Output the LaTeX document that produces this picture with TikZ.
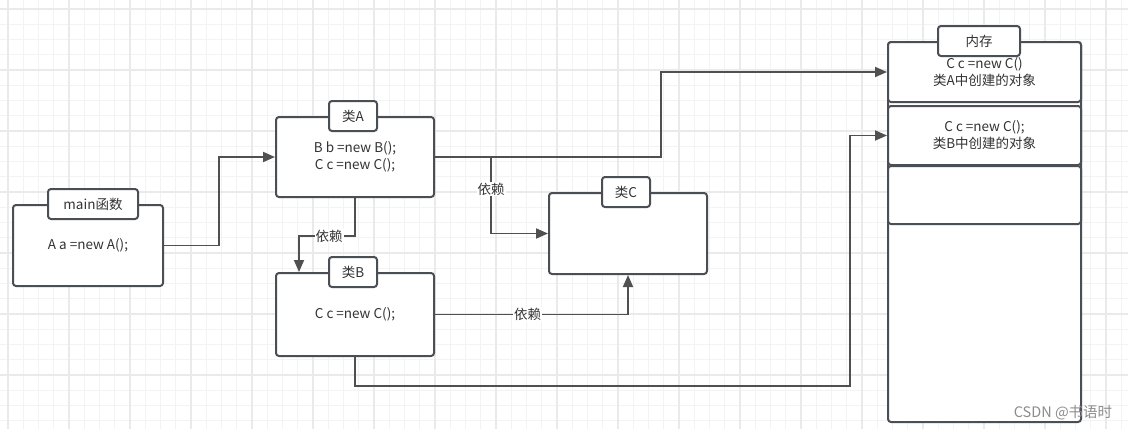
\documentclass[tikz,border=0pt]{standalone}
\usepackage{fontspec}
\setmainfont{Noto Sans CJK SC}
\usetikzlibrary{arrows.meta,positioning}
\definecolor{linegray}{HTML}{505050}
\definecolor{boxgray}{HTML}{4A4E55}
\definecolor{textgray}{HTML}{333333}
\definecolor{gridminor}{HTML}{F3F3F3}
\definecolor{gridmajor}{HTML}{EAEAEA}
\definecolor{markgray}{HTML}{8C8C8C}
\tikzset{box/.style={draw=boxgray, line width=2pt, rounded corners=3pt, fill=white,
   text=textgray, align=center, font=\fontsize{13.5}{17}\selectfont, inner sep=0pt},
 tab/.style={box, minimum height=30pt},
 dep/.style={draw=linegray, line width=1.8pt, -{Triangle[length=12pt,width=10pt]}},
 lbl/.style={fill=white, text=textgray, inner sep=1pt, font=\fontsize{13.5}{16}\selectfont},
 gridthin/.style={draw=gridminor, line width=1pt},
 gridthick/.style={draw=gridmajor, line width=1.6pt},
 }

\begin{document}
\begin{tikzpicture}[x=1pt, y=-1pt]
    \useasboundingbox (0,0) rectangle (1128,429);
    \fill[white] (0,0) rectangle (1128,429);
    \foreach \gx in {0,...,73} {\draw[gridthin] ({8+15.25*\gx},0) -- ++(0,429);}
    \foreach \gy in {0,...,27} {\draw[gridthin] (0,{9+15.25*\gy}) -- ++(1128,0);}
    \foreach \gx in {0,...,18} {\draw[gridthick] ({8+61*\gx},0) -- ++(0,429);}
    \foreach \gy in {0,...,7} {\draw[gridthick] (0,{9+61*\gy}) -- ++(1128,0);}

    \node[box, minimum width=150pt, minimum height=81pt] (mainbox) at (88,245.5) {A a =new A();};
    \node[tab, minimum width=90pt] (maintab) at ([xshift=5pt]mainbox.north) {main函数};

    \node[box, minimum width=158pt, minimum height=80pt] (classA) at (355,157) {B b =new B();\\C c =new C();};
    \node[tab, minimum width=48pt] (tabA) at ([xshift=-2pt]classA.north) {类A};

    \node[box, minimum width=158pt, minimum height=83pt] (classB) at (355,314.5) {C c =new C();};
    \node[tab, minimum width=48pt] (tabB) at ([xshift=-2pt]classB.north) {类B};

    \node[box, minimum width=158pt, minimum height=81pt] (classC) at (628,233.5) {};
    \node[tab, minimum width=48pt] (tabC) at ([xshift=-2pt]classC.north) {类C};

    \node[box, minimum width=193pt, minimum height=380pt] (memory) at (984.5,232) {};
    \node[box, minimum width=193pt, minimum height=60pt] (mem1) at (984.5,72) {C c =new C()\\类A中创建的对象};
    \node[box, minimum width=193pt, minimum height=59pt] (mem2) at (984.5,135.5) {C c =new C();\\类B中创建的对象};
    \node[box, minimum width=193pt, minimum height=58pt] (mem3) at (984.5,195) {};
    \node[tab, minimum width=82pt] (tabM) at ([xshift=-5.5pt]memory.north) {内存};

    \coordinate (bendMain) at (219,0);
    \coordinate (bendMem) at (661,0);
    \coordinate (bendC) at (491,0);
    \coordinate (bendB) at (299,236);
    \coordinate (bendLow) at (850,386);

    \draw[dep] (mainbox.east) -| (bendMain |- classA.west) -- (classA.west);
    \draw[dep] (classA.east) -| (bendMem |- mem1.west) -- (mem1.west);
    \draw[dep] (classA.east) -| node[lbl, pos=0.71] {依赖} (bendC |- classC.west) -- (classC.west);
    \draw[dep] (classA.south) |- node[lbl, pos=0.73] {依赖} (bendB) -- (bendB |- classB.north);
    \draw[dep] (classB.east) -| node[lbl, pos=0.24] {依赖} (classC.south);
    \draw[dep] (classB.south) |- (bendLow) |- (mem2.west);

    \node[text=markgray, font=\fontsize{14.5}{17}\selectfont] (mark) at (1063,413) {CSDN @书语时};
\end{tikzpicture}
\end{document}
